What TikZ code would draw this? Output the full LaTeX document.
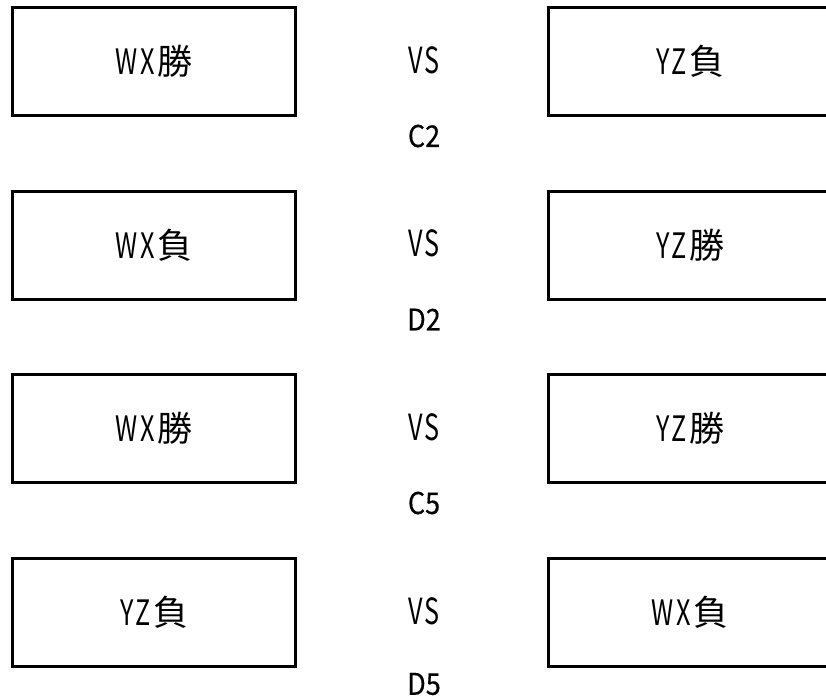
\documentclass[tikz,border=0pt]{standalone}
\usepackage{fontspec}
\newfontfamily\cjk{Noto Sans CJK JP}
\newfontfamily\cjklat[FakeStretch=0.72,LetterSpace=9]{Noto Sans CJK JP}
\newfontfamily\vsfont[FakeStretch=0.7,LetterSpace=6]{Noto Sans CJK JP}
\newfontfamily\codefont[FakeStretch=0.9,FakeBold=0.4]{Noto Sans CJK JP}
\newcommand\lbl[2]{{\cjklat #1}\hspace{2pt}{\cjk #2}}
\begin{document}
\begin{tikzpicture}[x=1pt,y=-1pt]
\tikzset{
  team/.style={draw,line width=3pt,minimum width=283pt,minimum height=108pt,inner sep=0pt,font=\fontsize{35pt}{36pt}\selectfont},
  vslbl/.style={font=\fontsize{36pt}{37pt}\selectfont\vsfont,inner sep=0pt},
  codelbl/.style={font=\fontsize{30pt}{31pt}\selectfont\codefont,inner sep=0pt}
}
\useasboundingbox (0,0) rectangle (826,698);
\clip (0,0) rectangle (826,698);
% row 1
\node[team] (l1) at (154,61.5) {\lbl{WX}{勝}};
\node[team] (r1) at (690,61.5) {\lbl{YZ}{負}};
\node[vslbl] (v1) at (424,60) {VS};
\node[codelbl] (c1) at (424,136) {C2};
% row 2
\node[team] (l2) at (154,245) {\lbl{WX}{負}};
\node[team] (r2) at (690,245) {\lbl{YZ}{勝}};
\node[vslbl] (v2) at (424,243.5) {VS};
\node[codelbl] (c2) at (424,319.5) {D2};
% row 3
\node[team] (l3) at (154,428.5) {\lbl{WX}{勝}};
\node[team] (r3) at (690,428.5) {\lbl{YZ}{勝}};
\node[vslbl] (v3) at (424,427) {VS};
\node[codelbl] (c3) at (424,503) {C5};
% row 4
\node[team] (l4) at (154,612.5) {\lbl{YZ}{負}};
\node[team] (r4) at (690,612.5) {\lbl{WX}{負}};
\node[vslbl] (v4) at (424,611) {VS};
\node[codelbl] (c4) at (424,684) {D5};
\end{tikzpicture}
\end{document}
